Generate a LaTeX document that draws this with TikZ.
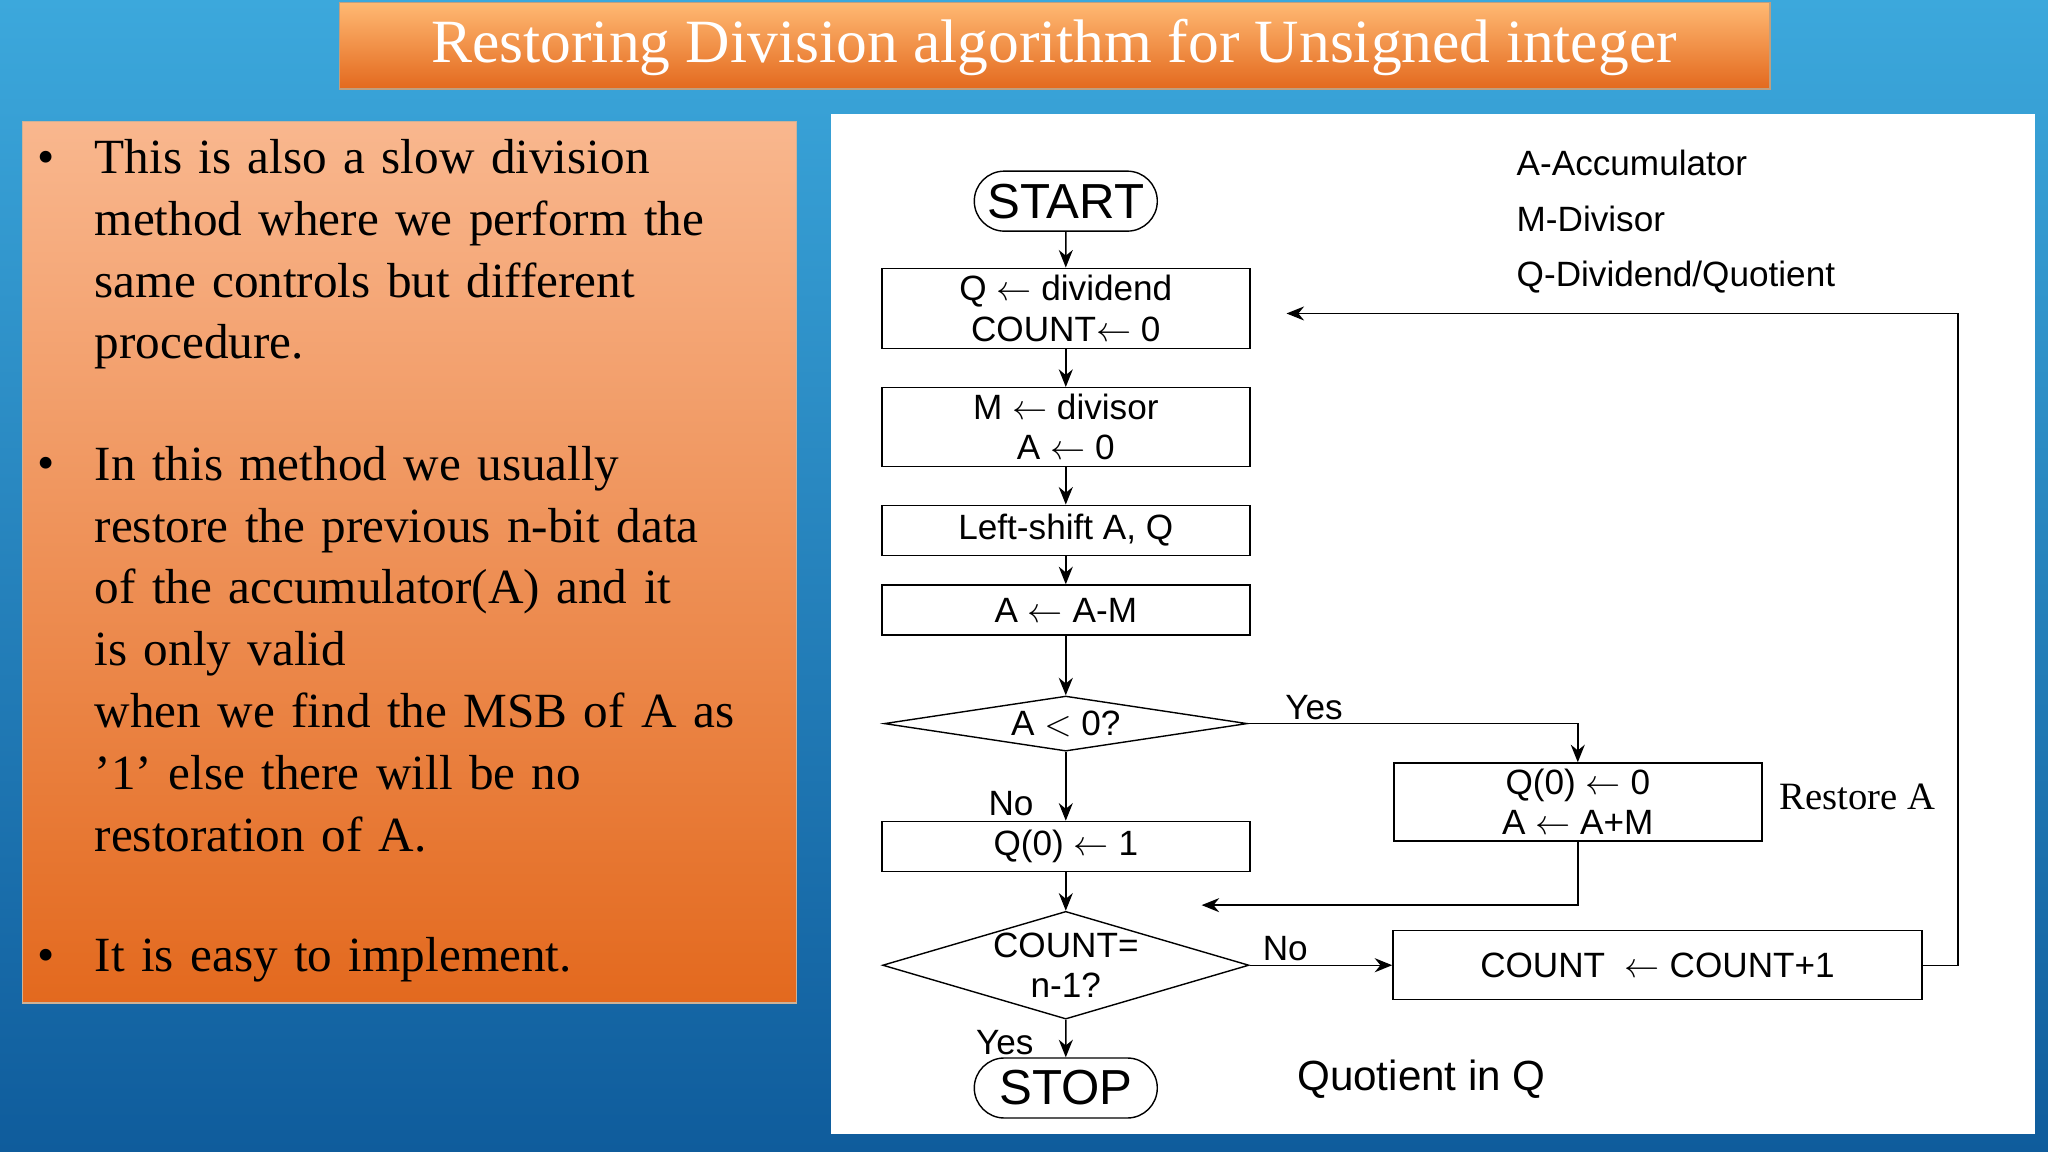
\documentclass[tikz,border=0pt]{standalone}
\usepackage{fontspec}
\setmainfont{Liberation Serif}
\setsansfont{Liberation Sans}
\usetikzlibrary{shapes.geometric,shapes.misc,arrows.meta,positioning}
\definecolor{skytop}{HTML}{3CA8DC}
\definecolor{skybot}{HTML}{0F5C9C}
\definecolor{orlight}{HTML}{F9B78E}
\definecolor{ordark}{HTML}{E3691E}
\tikzset{%
  >={Stealth[length=5pt,width=4pt]},
  flow/.style={font=\sffamily\fontsize{10}{11.5}\selectfont},
  procbox/.style={flow,draw,rectangle,minimum width=3.68cm,align=center,inner sep=1pt},
  termbox/.style={draw,rounded rectangle,minimum width=3.83cm,minimum height=0.6cm,inner xsep=1.0cm,font=\sffamily\fontsize{14}{16}\selectfont},
  decbox/.style={flow,draw,diamond,inner sep=0pt,align=center},
  lbl/.style={flow,inner sep=1pt},
  para/.style={anchor=north west,text width=7.2cm,align=left,inner sep=0pt,font=\fontsize{14}{17.6}\selectfont},
  dot/.style={font=\fontsize{14}{17.6}\selectfont,inner sep=0pt}
}
\begin{document}
\begin{tikzpicture}[x=0.01306cm,y=-0.01306cm]
\useasboundingbox (0,0) rectangle (1568,882);
% background
\shade[top color=skytop, bottom color=skybot] (0,0) rectangle (1568,882);
% title
\shade[top color=orange!55!white, bottom color=ordark, draw=orange!50!black!50] (260,2) rectangle (1355,68);
\node[text=white,font=\fontsize{17.5}{20}\selectfont] (title) at (807,36) {Restoring Division algorithm for Unsigned integer};
% left panel
\shade[top color=orlight, bottom color=ordark, draw=orange!50!black!40] (17,93) rectangle (610,768);
\node[para] (parone) at (72,106) {This is also a slow division\\method where we perform the\\same controls but different\\procedure.};
\node[para] (partwo) at (72,341) {In this method we usually\\restore the previous n-bit data\\of the accumulator(A) and it\\is only valid\\when we find the MSB of A as\\'1' else there will be no\\restoration of A.};
\node[para] (parthree) at (72,717) {It is easy to implement.};
\foreach \n/\yy in {one/124,two/359,three/735}
  \node[dot] (dot\n) at (35,\yy) {\textbullet};
% white panel
\fill[white] (636,87) rectangle (1558,868);
% flowchart
\node[termbox] (start) at (816,154) {START};
\node[procbox,minimum height=0.8cm] (init) at (816,236) {Q $\leftarrow$ dividend\\COUNT$\leftarrow$ 0};
\node[procbox,minimum height=0.79cm] (setm) at (816,327) {M $\leftarrow$ divisor\\A $\leftarrow$ 0};
\node[procbox,minimum height=0.5cm] (shift) at (816,406) {Left-shift A, Q};
\node[procbox,minimum height=0.5cm] (sub) at (816,467) {A $\leftarrow$ A-M};
\node[decbox,aspect=3.75,minimum width=3.63cm] (test) at (816,554) {A $<$ 0?};
\node[procbox,minimum height=0.5cm] (setone) at (816,648) {Q(0) $\leftarrow$ 1};
\node[decbox,aspect=3.4,minimum height=1.07cm] (count) at (816,739) {COUNT=\\n-1?};
\node[termbox] (stop) at (816,833) {STOP};
\node[procbox,minimum height=0.78cm] (restore) at (1208,614) {Q(0) $\leftarrow$ 0\\A $\leftarrow$ A+M};
\node[procbox,minimum width=5.29cm,minimum height=0.69cm] (incr) at (1269,739) {COUNT\ \ $\leftarrow$ COUNT+1};
\coordinate (join) at (920,693);
\coordinate (loop) at (985,240);
% legend and notes
\node[lbl,anchor=west] (legA) at (1158,125) {A-Accumulator};
\node[lbl,anchor=west] (legM) at (1158,168) {M-Divisor};
\node[lbl,anchor=west] (legQ) at (1158,212) {Q-Dividend/Quotient};
\node[anchor=west,font=\fontsize{11}{13}\selectfont] (restlbl) at (1353,610) {Restore A};
\node[lbl,anchor=west,font=\sffamily\fontsize{12}{14}\selectfont] (quot) at (990,826) {Quotient in Q};
% connectors
\draw[->] (start) -- (init);
\draw[->] (init) -- (setm);
\draw[->] (setm) -- (shift);
\draw[->] (shift) -- (sub);
\draw[->] (sub) -- (test);
\draw[->] (test) -- node[lbl,pos=.75,left=8pt] {No} (setone);
\draw[->] (setone) -- (count);
\draw[->] (count) -- node[lbl,pos=.6,left=8pt] {Yes} (stop);
\draw[->] (test.east) -- node[lbl,pos=.2,above] {Yes} (test.east -| restore) -- (restore.north);
\draw[->] (restore.south) |- (join);
\draw[->] (count.east) -- node[lbl,pos=.25,above] {No} (incr.west);
\draw[->] (incr.east) -- ++(27,0) |- (loop);
\end{tikzpicture}
\end{document}
